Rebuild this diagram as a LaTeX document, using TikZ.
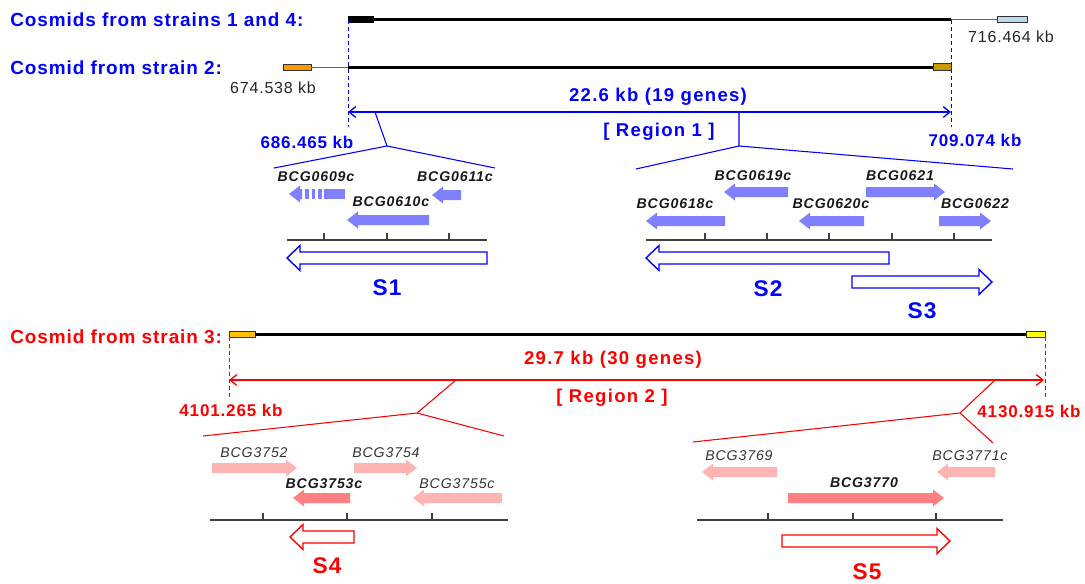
\documentclass[tikz,border=0pt]{standalone}
\usepackage{fontspec}
\setmainfont{Liberation Sans}
\newfontfamily\lsA[LetterSpace=5]{Liberation Sans}
\newfontfamily\lsB[LetterSpace=6]{Liberation Sans}
\newfontfamily\lsC[LetterSpace=7]{Liberation Sans}
\usetikzlibrary{arrows.meta}
\definecolor{myblue}{RGB}{0,0,255}
\definecolor{genblue}{RGB}{128,128,255}
\definecolor{myred}{RGB}{255,0,0}
\definecolor{pinkl}{RGB}{255,180,180}
\definecolor{pinkd}{RGB}{255,128,128}
\definecolor{lblue}{RGB}{184,220,236}
\definecolor{orng}{RGB}{255,153,0}
\definecolor{dgold}{RGB}{204,153,0}
\definecolor{gold}{RGB}{255,192,0}
\definecolor{yel}{RGB}{255,255,0}
\definecolor{axisc}{RGB}{64,64,64}
\tikzset{
  titlelbl/.style={font=\lsA\bfseries\fontsize{14.2}{16}\selectfont, anchor=west, inner sep=0},
  reglbl/.style={font=\lsC\bfseries\fontsize{13.9}{16}\selectfont, inner sep=0},
  kblbl/.style={font=\lsA\bfseries\fontsize{12.75}{15}\selectfont, inner sep=0},
  plainkb/.style={font=\lsA\fontsize{12}{14}\selectfont, text=black!85, inner sep=0},
  genelbl/.style={font=\lsB\bfseries\itshape\fontsize{10.6}{12}\selectfont, text=black!90, inner sep=0},
  genelblr/.style={font=\lsB\itshape\fontsize{10.6}{12}\selectfont, text=black!80, inner sep=0},
  slbl/.style={font=\lsA\bfseries\fontsize{17}{19}\selectfont, inner sep=0},
  cosmid/.style={line width=2.25pt, black},
  thinl/.style={line width=0.75pt, black!60},
  boxo/.style={draw=black!80, line width=0.6pt},
  vdash/.style={line width=0.75pt, dash pattern=on 3pt off 2.25pt},
  zoomline/.style={line width=0.8pt},
  regarrow/.style={line width=1pt, {Straight Barb[length=5pt,width=8pt]}-{Straight Barb[length=5pt,width=8pt]}},
  axisl/.style={line width=0.9pt, axisc},
  hollow/.style={line width=1.05pt, fill=white},
}
% gene arrow pointing left: tip, tail, y, colour
\newcommand\gl[4]{\fill[#4] (#2,#3-5) -- (#1+11,#3-5) -- (#1+11,#3-8.5) -- (#1,#3) -- (#1+11,#3+8.5) -- (#1+11,#3+5) -- (#2,#3+5) -- cycle;}
% gene arrow pointing right: tail, tip, y, colour
\newcommand\gr[4]{\fill[#4] (#1,#3-5) -- (#2-11,#3-5) -- (#2-11,#3-8.5) -- (#2,#3) -- (#2-11,#3+8.5) -- (#2-11,#3+5) -- (#1,#3+5) -- cycle;}
% hollow arrow left: tip, tail, y, colour
\newcommand\hl[4]{\draw[hollow,draw=#4] (#2,#3-6) -- (#1+13,#3-6) -- (#1+13,#3-12.5) -- (#1,#3) -- (#1+13,#3+12.5) -- (#1+13,#3+6) -- (#2,#3+6) -- cycle;}
% hollow arrow right: tail, tip, y, colour
\newcommand\hr[4]{\draw[hollow,draw=#4] (#1,#3-6) -- (#2-13,#3-6) -- (#2-13,#3-12.5) -- (#2,#3) -- (#2-13,#3+12.5) -- (#2-13,#3+6) -- (#1,#3+6) -- cycle;}
\begin{document}
\begin{tikzpicture}[x=0.75pt,y=-0.75pt]
\useasboundingbox (0,0) rectangle (1085,583);

% ---------- titles ----------
\node[titlelbl, text=myblue] (t1) at (10,20) {Cosmids from strains 1 and 4:};
\node[titlelbl, text=myblue] (t2) at (10,68) {Cosmid from strain 2:};
\node[titlelbl, text=myred] (t3) at (10,337) {Cosmid from strain 3:};

% ---------- cosmid 1/4 ----------
\fill[black] (348,16) rectangle (374,23);
\draw[cosmid] (374,19.5) -- (951,19.5);
\draw[thinl] (951,19.5) -- (997,19.5);
\filldraw[boxo, fill=lblue] (997,16.5) rectangle (1027,22.5);
\node[plainkb] (kb716) at (1011,37) {716.464 kb};

% ---------- cosmid 2 ----------
\filldraw[boxo, fill=orng] (283,64) rectangle (311,70);
\draw[thinl] (311,67) -- (348,67);
\draw[cosmid] (348,67) -- (933,67);
\filldraw[boxo, fill=dgold] (933,63.5) rectangle (951,70.5);
\node[plainkb] (kb674) at (273,88) {674.538 kb};

% ---------- region 1 ----------
\draw[vdash, myblue] (348,20) -- (348,127);
\draw[vdash, myblue] (951,20) -- (951,127);
\coordinate (r1l) at (348,112);
\coordinate (r1r) at (951,112);
\draw[regarrow, myblue] (r1l) -- (r1r);
\node[reglbl, text=myblue] (r1len) at (658,97) {22.6 kb (19 genes)};
\node[reglbl, text=myblue] (r1name) at (659,132) {[ Region 1 ]};
\node[kblbl, text=myblue] (kb686) at (307,142) {686.465 kb};
\node[kblbl, text=myblue] (kb709) at (975,140) {709.074 kb};

\draw[zoomline, myblue] (375,112) -- (387,146) -- (274,168);
\draw[zoomline, myblue] (387,146) -- (495,168);
\draw[zoomline, myblue] (739,112) -- (739,146) -- (636,169);
\draw[zoomline, myblue] (739,146) -- (1013,169);

% S1 genes
\node[genelbl] (g609) at (316,177) {BCG0609c};
\node[genelbl] (g611) at (455,177) {BCG0611c};
\node[genelbl] (g610) at (391,202) {BCG0610c};
\fill[genblue] (302,189) -- (300,189) -- (300,185.5) -- (289,194) -- (300,202.5) -- (300,199) -- (302,199) -- cycle;
\fill[genblue] (305,189) rectangle (308.5,199);
\fill[genblue] (311.5,189) rectangle (315,199);
\fill[genblue] (318,189) rectangle (321.5,199);
\fill[genblue] (324,189) rectangle (345,199);
\gl{432}{461}{195}{genblue}
\gl{347}{429}{220}{genblue}
\draw[axisl] (287,240) -- (487,240);
\foreach \x in {324,387,449} \draw[axisl] (\x,240) -- (\x,233);
\hl{287}{487}{258}{myblue}
\node[slbl, text=myblue] (s1) at (387,288) {S1};

% S2/S3 genes
\node[genelbl] (g619) at (753,176) {BCG0619c};
\node[genelbl] (g621) at (900,176) {BCG0621};
\node[genelbl] (g618) at (675,204) {BCG0618c};
\node[genelbl] (g620) at (831,204) {BCG0620c};
\node[genelbl] (g622) at (975,204) {BCG0622};
\gl{724}{788}{192}{genblue}
\gr{866}{945}{192}{genblue}
\gl{646}{725}{221}{genblue}
\gl{799}{864}{221}{genblue}
\gr{939}{991}{221}{genblue}
\draw[axisl] (646,240) -- (992,240);
\foreach \x in {705,767,829,892,954} \draw[axisl] (\x,240) -- (\x,233);
\hl{646}{889}{258}{myblue}
\hr{852}{992}{282}{myblue}
\node[slbl, text=myblue] (s2) at (768,289) {S2};
\node[slbl, text=myblue] (s3) at (922,311) {S3};

% ---------- cosmid 3 ----------
\filldraw[boxo, fill=gold] (229,331) rectangle (255,337);
\draw[cosmid] (255,334) -- (1026,334);
\filldraw[boxo, fill=yel] (1026,331) rectangle (1045,337);

% ---------- region 2 ----------
\draw[vdash, myred] (229,337) -- (229,397);
\draw[vdash, myred] (1045,337) -- (1045,397);
\coordinate (r2l) at (229,380);
\coordinate (r2r) at (1044,380);
\draw[regarrow, myred] (r2l) -- (r2r);
\node[reglbl, text=myred] (r2len) at (613,360) {29.7 kb (30 genes)};
\node[reglbl, text=myred] (r2name) at (612,398) {[ Region 2 ]};
\node[kblbl, text=myred] (kb4101) at (231,410) {4101.265 kb};
\node[kblbl, text=myred] (kb4130) at (1029,411) {4130.915 kb};

\draw[zoomline, myred] (456,380) -- (417,413) -- (203,436);
\draw[zoomline, myred] (417,413) -- (504,436);
\draw[zoomline, myred] (995,380) -- (960,413) -- (693,442);
\draw[zoomline, myred] (960,413) -- (993,443);

% S4 genes
\node[genelblr] (g3752) at (254,453) {BCG3752};
\node[genelblr] (g3754) at (386,453) {BCG3754};
\node[genelbl] (g3753) at (324,484) {BCG3753c};
\node[genelblr] (g3755) at (457,484) {BCG3755c};
\gr{212}{297}{468}{pinkl}
\gr{354}{417}{468}{pinkl}
\gl{293}{350}{498}{pinkd}
\gl{413}{502}{498}{pinkl}
\draw[axisl] (210,520) -- (508,520);
\foreach \x in {263,347,432} \draw[axisl] (\x,520) -- (\x,513);
\hl{290}{354}{537}{myred}
\node[slbl, text=myred] (s4) at (327,566) {S4};

% S5 genes
\node[genelblr] (g3769) at (739,456) {BCG3769};
\node[genelblr] (g3771) at (970,456) {BCG3771c};
\node[genelbl] (g3770) at (864,483) {BCG3770};
\gl{702}{777}{472}{pinkl}
\gl{937}{995}{472}{pinkl}
\gr{788}{944}{498}{pinkd}
\draw[axisl] (697,520) -- (1003,520);
\foreach \x in {768,853,936} \draw[axisl] (\x,520) -- (\x,513);
\hr{782}{950}{541}{myred}
\node[slbl, text=myred] (s5) at (867,572) {S5};
\end{tikzpicture}
\end{document}
